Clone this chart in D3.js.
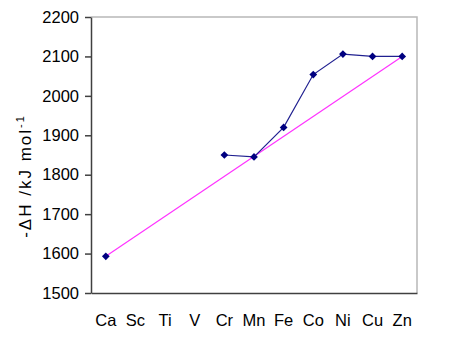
<!DOCTYPE html>
<html><head><meta charset="utf-8">
<script src="https://cdn.jsdelivr.net/npm/d3@7"></script>
<style>body{margin:0;background:#fff}svg{display:block}text{font-family:"Liberation Sans",Arial,sans-serif}</style>
</head><body>
<svg id="c" width="449" height="353"></svg>
<script>
const categories = ["Ca","Sc","Ti","V","Cr","Mn","Fe","Co","Ni","Cu","Zn"];
const measured = [1593, null, null, null, 1850, 1845, 1920, 2054, 2106, 2100, 2100];
const trend = [1593, null, null, null, null, null, null, null, null, null, 2100];
const yTicks = [1500,1600,1700,1800,1900,2000,2100,2200];

const svg = d3.select("#c");
const L = 91, R = 417, T = 17, B = 293;
const x = d3.scaleBand().domain(categories).range([L, R]);
const y = d3.scaleLinear().domain([1500, 2200]).range([B, T]);
const cx = c => x(c) + x.bandwidth() / 2;

// plot border top/right
svg.append("path").attr("d", `M${L},${T}H${R}V${B}`).attr("fill","none").attr("stroke","#b8b8b8").attr("stroke-width",1.5);

// y axis
const ya = svg.append("g").attr("transform", `translate(${L},0)`)
  .call(d3.axisLeft(y).tickValues(yTicks).tickSize(6).tickSizeOuter(0).tickPadding(6).tickFormat(d3.format("d")));
ya.select(".domain").attr("stroke","#404040").attr("stroke-width",1.5);
ya.selectAll(".tick line").attr("stroke","#404040").attr("stroke-width",1.5);
ya.selectAll(".tick text").attr("font-size",16.5).attr("fill","#000").attr("font-family","Liberation Sans, Arial, sans-serif");

// x axis
const xa = svg.append("g").attr("transform", `translate(0,${B})`)
  .call(d3.axisBottom(x).tickSize(0).tickPadding(21));
xa.select(".domain").attr("stroke","#404040").attr("stroke-width",1.5);
xa.selectAll(".tick text").attr("font-size",16.5).attr("fill","#000").attr("font-family","Liberation Sans, Arial, sans-serif");

// trend line (pink)
const trendPts = categories.map((c,i)=>({c, v: trend[i]})).filter(d => d.v != null);
svg.append("path").datum(trendPts)
  .attr("d", d3.line().x(d => cx(d.c)).y(d => y(d.v)))
  .attr("fill","none").attr("stroke","#ff33ff").attr("stroke-width",1.2);

// measured line (navy), broken at gaps
const mPts = categories.map((c,i)=>({c, v: measured[i]}));
svg.append("path").datum(mPts)
  .attr("d", d3.line().defined(d => d.v != null).x(d => cx(d.c)).y(d => y(d.v)))
  .attr("fill","none").attr("stroke","#202090").attr("stroke-width",1.2);

// markers
svg.selectAll(".m").data(mPts.filter(d => d.v != null)).join("path")
  .attr("transform", d => `translate(${cx(d.c)},${y(d.v)}) rotate(45)`)
  .attr("d", d3.symbol().type(d3.symbolSquare).size(30))
  .attr("fill","#000080");

// y title
const t = svg.append("text").attr("transform","translate(31,176) rotate(-90)")
  .attr("text-anchor","middle").attr("font-size",17).attr("letter-spacing",2).attr("fill","#000");
t.append("tspan").text("-\u0394H /kJ mol");
t.append("tspan").attr("font-size",11).attr("dy",-7).text("-1");
</script>
</body></html>
